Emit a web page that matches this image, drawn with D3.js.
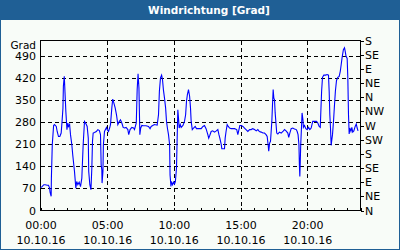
<!DOCTYPE html>
<html>
<head>
<meta charset="utf-8">
<script src="https://cdn.jsdelivr.net/npm/d3@7"></script>
<style>
  body { margin: 0; background: #fff; }
  #chart { width: 400px; height: 250px; }
</style>
</head>
<body>
<div id="chart"></div>
<script>
// Measurement times in hours after 00:00 on 10.10.16
const hours = [
  0.00, 0.10, 0.25, 0.35, 0.50, 0.60, 0.68, 0.72, 0.80, 0.82, 0.88, 0.98, 1.05, 1.18, 1.25, 1.35, 1.45, 1.55, 1.62, 1.68,
  1.72, 1.78, 1.82, 1.90, 1.98, 2.05, 2.10, 2.18, 2.25, 2.35, 2.42, 2.55, 2.65, 2.72, 2.80, 2.90, 3.00, 3.10, 3.20, 3.30,
  3.42, 3.50, 3.58, 3.62, 3.70, 3.78, 3.85, 3.90, 3.95, 4.05, 4.18, 4.30, 4.42, 4.50, 4.55, 4.60, 4.62, 4.68, 4.72, 4.80,
  4.90, 4.95, 5.00, 5.10, 5.18, 5.25, 5.35, 5.42, 5.50, 5.60, 5.70, 5.80, 5.92, 6.00, 6.10, 6.20, 6.30, 6.42, 6.55, 6.62,
  6.72, 6.85, 6.98, 7.05, 7.18, 7.25, 7.32, 7.38, 7.45, 7.52, 7.60, 7.72, 7.92, 8.10, 8.22, 8.30, 8.42, 8.55, 8.75, 8.85,
  8.92, 9.00, 9.08, 9.15, 9.22, 9.30, 9.38, 9.45, 9.52, 9.60, 9.68, 9.72, 9.78, 9.82, 9.90, 9.98, 10.05, 10.12, 10.20, 10.25,
  10.30, 10.35, 10.40, 10.48, 10.55, 10.68, 10.80, 10.88, 10.95, 11.02, 11.10, 11.18, 11.25, 11.30, 11.38, 11.48, 11.60, 11.70, 11.85, 12.05,
  12.18, 12.30, 12.42, 12.55, 12.62, 12.70, 12.80, 12.92, 13.05, 13.18, 13.30, 13.38, 13.45, 13.55, 13.60, 13.70, 13.80, 13.85, 13.92, 14.00,
  14.08, 14.18, 14.30, 14.55, 14.72, 14.80, 14.88, 14.95, 15.05, 15.18, 15.30, 15.42, 15.55, 15.68, 15.80, 15.92, 16.05, 16.18, 16.30, 16.42,
  16.55, 16.68, 16.80, 16.92, 17.00, 17.08, 17.12, 17.18, 17.25, 17.30, 17.35, 17.40, 17.45, 17.50, 17.55, 17.60, 17.65, 17.72, 17.80, 17.92,
  18.05, 18.18, 18.30, 18.42, 18.55, 18.62, 18.70, 18.80, 18.92, 19.05, 19.18, 19.25, 19.32, 19.38, 19.42, 19.45, 19.48, 19.52, 19.58, 19.62,
  19.68, 19.72, 19.80, 19.90, 20.00, 20.10, 20.20, 20.30, 20.42, 20.55, 20.70, 20.80, 20.90, 20.98, 21.02, 21.08, 21.15, 21.25, 21.38, 21.50,
  21.60, 21.65, 21.70, 21.75, 21.80, 21.85, 21.90, 21.98, 22.05, 22.12, 22.20, 22.30, 22.40, 22.48, 22.55, 22.62, 22.72, 22.80, 22.85, 22.92,
  23.00, 23.05, 23.10, 23.15, 23.20, 23.28, 23.35, 23.42, 23.50, 23.60, 23.68, 23.75, 23.82
];

// Wind direction in degrees (values above 360 wrap round past north)
const degrees = [
  73, 75, 82, 82, 80, 80, 71, 58, 45, 103, 209, 270, 273, 267, 251, 235, 235, 246, 283, 325,
  395, 426, 395, 315, 257, 278, 267, 273, 241, 209, 177, 124, 71, 92, 82, 90, 76, 103, 209, 283,
  275, 267, 230, 124, 82, 66, 135, 220, 246, 248, 251, 257, 254, 241, 145, 129, 87, 124, 209, 251,
  260, 264, 257, 251, 262, 273, 326, 354, 342, 326, 304, 273, 283, 288, 278, 264, 262, 264, 257, 241,
  257, 264, 262, 257, 278, 384, 434, 389, 241, 262, 270, 269, 269, 267, 260, 267, 270, 273, 271, 304,
  379, 421, 430, 416, 384, 357, 326, 283, 262, 241, 209, 113, 76, 92, 82, 90, 84, 92, 135, 230,
  320, 294, 262, 273, 264, 270, 283, 304, 347, 368, 384, 363, 326, 283, 257, 262, 267, 260, 260, 260,
  267, 270, 260, 241, 230, 239, 251, 253, 249, 253, 257, 241, 230, 211, 196, 196, 196, 230, 251, 273,
  267, 262, 260, 260, 257, 241, 257, 270, 270, 267, 262, 257, 251, 257, 257, 260, 257, 253, 257, 251,
  249, 246, 246, 241, 235, 204, 188, 214, 220, 251, 283, 336, 384, 357, 352, 310, 283, 246, 243, 249,
  246, 251, 257, 253, 246, 232, 246, 260, 262, 259, 257, 251, 241, 209, 145, 108, 156, 209, 273, 310,
  288, 264, 270, 260, 257, 264, 257, 262, 283, 283, 283, 278, 267, 264, 304, 379, 423, 430, 430, 432,
  430, 379, 304, 262, 207, 225, 241, 288, 336, 379, 413, 423, 426, 442, 463, 485, 511, 517, 506, 490,
  483, 421, 304, 243, 262, 251, 264, 249, 253, 267, 275, 262, 253
];

const gradTicks = [0, 70, 140, 210, 280, 350, 420, 490];
const compassLabels = ['N', 'NE', 'E', 'SE', 'S', 'SW', 'W', 'NW', 'N', 'NE', 'E', 'SE', 'S'];
const compassTicks = [0, 45, 90, 135, 180, 225, 270, 315, 360, 405, 450, 495, 540];
const timeTicks = [0, 5, 10, 15, 20];
const dateLabel = '10.10.16';
const title = 'Windrichtung [Grad]';
const unit = 'Grad';

const W = 400, H = 250;
const blue = '#1f5f95';
const font = '"DejaVu Sans", sans-serif';
const start = new Date(2016, 9, 10, 0, 0);
const end = d3.timeHour.offset(start, 24);
const majorTimes = timeTicks.map(h => d3.timeHour.offset(start, h));

const svg = d3.select('#chart').append('svg')
  .attr('width', W)
  .attr('height', H)
  .style('display', 'block');

// background + outer border
svg.append('rect')
  .attr('x', 0.5).attr('y', 0.5)
  .attr('width', W - 1).attr('height', H - 1)
  .attr('fill', '#f8fcf8')
  .attr('stroke', blue);

// title bar
svg.append('rect')
  .attr('x', 0).attr('y', 0)
  .attr('width', W).attr('height', 20)
  .attr('fill', blue);
svg.append('text')
  .attr('x', W / 2 + 9).attr('y', 14)
  .attr('text-anchor', 'middle')
  .attr('font-family', font)
  .attr('font-weight', 'bold')
  .attr('font-size', 10.5)
  .attr('fill', '#fff')
  .text(title);

const x = d3.scaleTime().domain([start, end]).range([40.5, 360.5]);
const y = d3.scaleLinear().domain([0, 540]).range([210.5, 40.5]);

// dashed grid
svg.append('g')
  .attr('stroke', '#000')
  .attr('stroke-dasharray', '4,3')
  .attr('shape-rendering', 'crispEdges')
  .selectAll('line')
  .data(gradTicks.filter(d => d > 0))
  .enter()
  .append('line')
  .attr('x1', 41).attr('x2', 360)
  .attr('y1', d => Math.round(y(d)) + 0.5)
  .attr('y2', d => Math.round(y(d)) + 0.5);

svg.append('g')
  .attr('stroke', '#000')
  .attr('stroke-dasharray', '4,3')
  .attr('shape-rendering', 'crispEdges')
  .selectAll('line')
  .data(majorTimes.filter(d => d > start))
  .enter()
  .append('line')
  .attr('y1', 41).attr('y2', 210)
  .attr('x1', d => Math.round(x(d)) + 0.5)
  .attr('x2', d => Math.round(x(d)) + 0.5);

// hourly minor ticks on the bottom axis, pointing up
const minor = svg.append('g')
  .attr('transform', 'translate(0,210.5)')
  .call(d3.axisBottom(x).ticks(d3.timeHour.every(1)).tickSize(-3).tickFormat(''));
minor.select('.domain').remove();
minor.selectAll('line').attr('shape-rendering', 'crispEdges');

// bottom labels: time and date on two lines
const xAxis = svg.append('g')
  .attr('transform', 'translate(0,211)')
  .call(d3.axisBottom(x).tickValues(majorTimes).tickSize(0).tickPadding(0).tickFormat(''));
xAxis.select('.domain').remove();
xAxis.selectAll('.tick').each(function(d) {
  const t = d3.select(this).append('text')
    .attr('fill', '#000')
    .attr('font-family', font)
    .attr('font-size', 11)
    .attr('text-anchor', 'middle');
  t.append('tspan').attr('x', 0).attr('y', 18).text(d3.timeFormat('%H:%M')(d));
  t.append('tspan').attr('x', 0).attr('y', 33).text(dateLabel);
});

// left axis (degrees)
const yAxis = svg.append('g')
  .attr('transform', 'translate(40,0)')
  .call(d3.axisLeft(y).tickValues(gradTicks).tickSize(0).tickPadding(4));
yAxis.select('.domain').remove();
yAxis.selectAll('text')
  .attr('font-family', font)
  .attr('font-size', 11)
  .attr('fill', '#000');

svg.append('text')
  .attr('x', 36).attr('y', 48.5)
  .attr('text-anchor', 'end')
  .attr('font-family', font)
  .attr('font-size', 10.5)
  .text(unit);

// right axis (compass)
const rAxis = svg.append('g')
  .attr('transform', 'translate(361,0)')
  .call(d3.axisRight(y).tickValues(compassTicks).tickSize(3).tickPadding(1)
    .tickFormat((d, i) => compassLabels[i]));
rAxis.select('.domain').remove();
rAxis.selectAll('line').attr('shape-rendering', 'crispEdges');
rAxis.selectAll('text')
  .attr('font-family', font)
  .attr('font-size', 11)
  .attr('fill', '#000');

// plot frame
svg.append('rect')
  .attr('x', 40.5).attr('y', 40.5)
  .attr('width', 320).attr('height', 170)
  .attr('fill', 'none')
  .attr('stroke', '#000')
  .attr('shape-rendering', 'crispEdges');

// data line
const points = hours.map((h, i) => ({t: d3.timeMinute.offset(start, Math.round(h * 60)), v: degrees[i]}));
svg.append('path')
  .datum(points)
  .attr('fill', 'none')
  .attr('stroke', '#0000ff')
  .attr('stroke-width', 1.1)
  .attr('d', d3.line().x(d => x(d.t)).y(d => y(d.v)));
</script>
</body>
</html>
